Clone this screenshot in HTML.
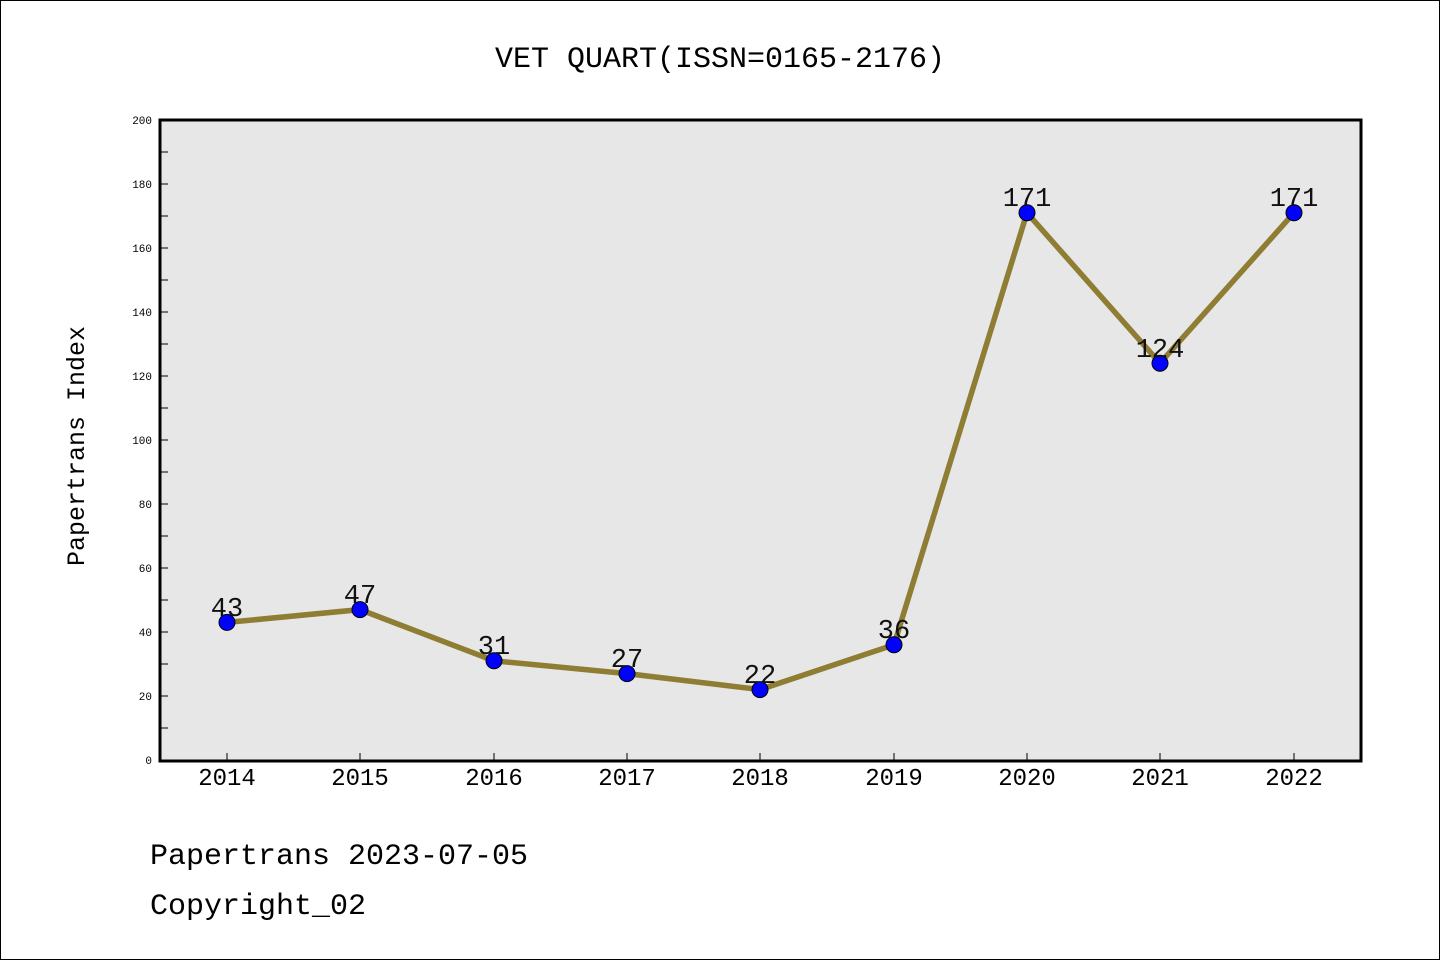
<!DOCTYPE html>
<html><head><style>body{margin:0;background:#fff}svg{display:block}text{font-family:"WenQuanYi Zen Hei Mono","WenQuanYi Zen Hei","Liberation Mono",monospace}</style></head><body>
<svg width="1440" height="960" xmlns="http://www.w3.org/2000/svg">
<rect x="0.5" y="0.5" width="1439" height="959" fill="#fff" stroke="#000"/>
<text x="720" y="67" font-size="30" text-anchor="middle">VET QUART(ISSN=0165-2176)</text>
<rect x="160" y="120" width="1201" height="641" fill="#e7e7e7"/>
<g stroke="#000" stroke-width="1">
<line x1="160" y1="760" x2="168" y2="760"/><line x1="160" y1="728" x2="168" y2="728"/>
<line x1="160" y1="696" x2="168" y2="696"/><line x1="160" y1="664" x2="168" y2="664"/>
<line x1="160" y1="632" x2="168" y2="632"/><line x1="160" y1="600" x2="168" y2="600"/>
<line x1="160" y1="568" x2="168" y2="568"/><line x1="160" y1="536" x2="168" y2="536"/>
<line x1="160" y1="504" x2="168" y2="504"/><line x1="160" y1="472" x2="168" y2="472"/>
<line x1="160" y1="440" x2="168" y2="440"/><line x1="160" y1="408" x2="168" y2="408"/>
<line x1="160" y1="376" x2="168" y2="376"/><line x1="160" y1="344" x2="168" y2="344"/>
<line x1="160" y1="312" x2="168" y2="312"/><line x1="160" y1="280" x2="168" y2="280"/>
<line x1="160" y1="248" x2="168" y2="248"/><line x1="160" y1="216" x2="168" y2="216"/>
<line x1="160" y1="184" x2="168" y2="184"/><line x1="160" y1="152" x2="168" y2="152"/>
<line x1="227" y1="761" x2="227" y2="753"/><line x1="360" y1="761" x2="360" y2="753"/>
<line x1="494" y1="761" x2="494" y2="753"/><line x1="627" y1="761" x2="627" y2="753"/>
<line x1="760" y1="761" x2="760" y2="753"/><line x1="894" y1="761" x2="894" y2="753"/>
<line x1="1027" y1="761" x2="1027" y2="753"/><line x1="1160" y1="761" x2="1160" y2="753"/>
<line x1="1294" y1="761" x2="1294" y2="753"/>
</g>
<rect x="160" y="120" width="1201" height="641" fill="none" stroke="#000" stroke-width="3"/>
<g font-size="11" text-anchor="end">
<text x="152" y="764">0</text><text x="152" y="700">20</text><text x="152" y="636">40</text>
<text x="152" y="572">60</text><text x="152" y="508">80</text><text x="152" y="444">100</text>
<text x="152" y="380">120</text><text x="152" y="316">140</text><text x="152" y="252">160</text>
<text x="152" y="188">180</text><text x="152" y="124">200</text>
</g>
<g font-size="24" text-anchor="middle">
<text x="227" y="785">2014</text><text x="360" y="785">2015</text><text x="494" y="785">2016</text>
<text x="627" y="785">2017</text><text x="760" y="785">2018</text><text x="894" y="785">2019</text>
<text x="1027" y="785">2020</text><text x="1160" y="785">2021</text><text x="1294" y="785">2022</text>
</g>
<text transform="translate(84,446) rotate(-90)" font-size="25" text-anchor="middle">Papertrans Index</text>
<polyline fill="none" stroke="#8e7d33" stroke-width="5.5" points="227,622.4 360,609.6 494,660.8 627,673.6 760,689.6 894,644.8 1027,212.8 1160,363.2 1294,212.8"/>
<g fill="#0000ff" stroke="#000" stroke-width="1">
<circle cx="227" cy="622.4" r="8"/><circle cx="360" cy="609.6" r="8"/><circle cx="494" cy="660.8" r="8"/>
<circle cx="627" cy="673.6" r="8"/><circle cx="760" cy="689.6" r="8"/><circle cx="894" cy="644.8" r="8"/>
<circle cx="1027" cy="212.8" r="8"/><circle cx="1160" cy="363.2" r="8"/><circle cx="1294" cy="212.8" r="8"/>
</g>
<g font-size="27" text-anchor="middle" fill="#111">
<text x="227" y="616">43</text><text x="360" y="603">47</text><text x="494" y="654">31</text>
<text x="627" y="667">27</text><text x="760" y="683">22</text><text x="894" y="638">36</text>
<text x="1027" y="206">171</text><text x="1160" y="357">124</text><text x="1294" y="206">171</text>
</g>
<text x="150" y="864" font-size="30">Papertrans 2023-07-05</text>
<text x="150" y="914" font-size="30">Copyright_02</text>
</svg>
</body></html>
